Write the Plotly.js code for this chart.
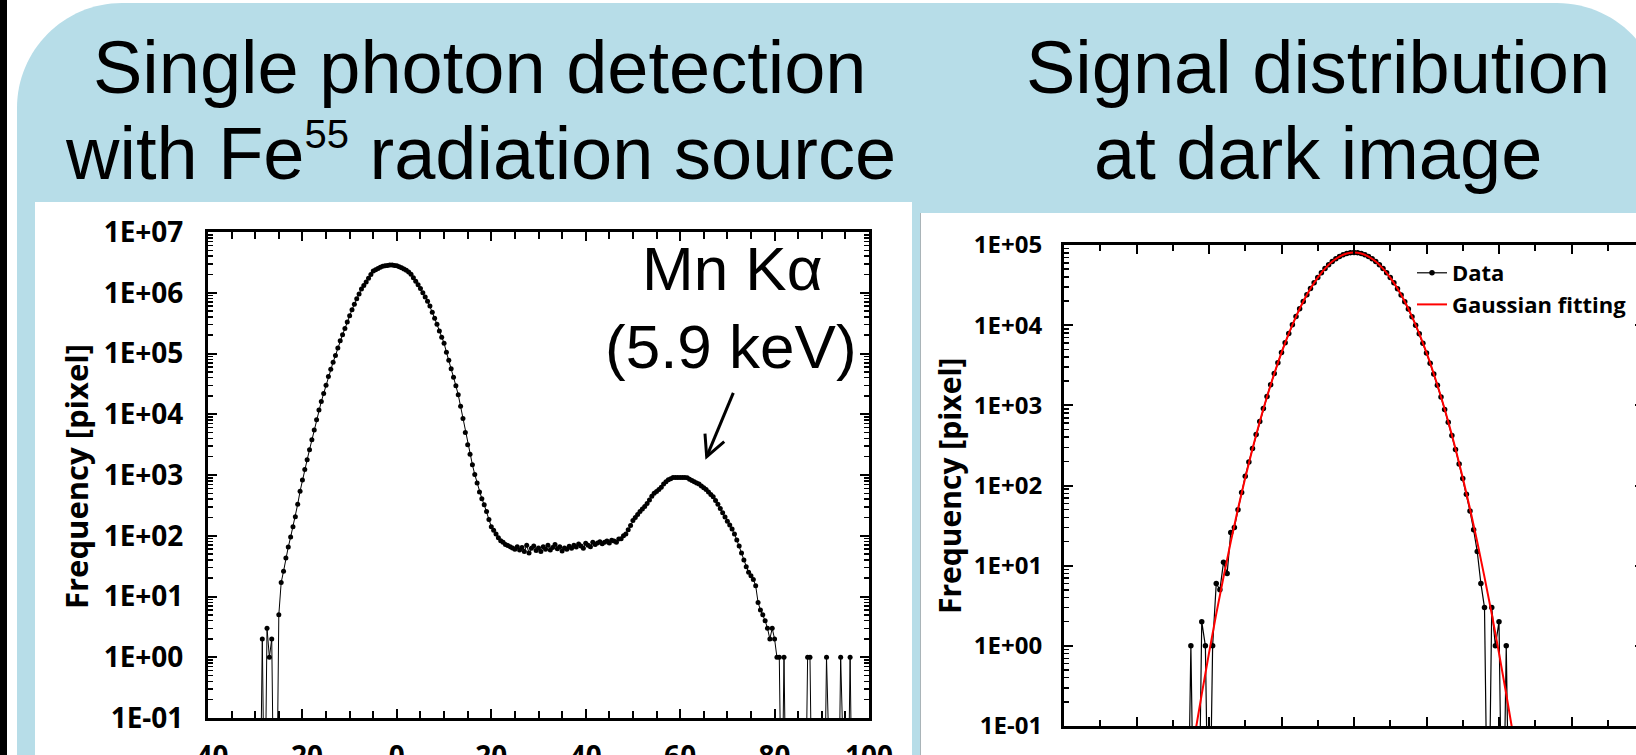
<!DOCTYPE html>
<html>
<head>
<meta charset="utf-8">
<script src="https://cdn.plot.ly/plotly-3.0.1.min.js"></script>
<style>
html,body{margin:0;padding:0;overflow:hidden;background:#fff;}
#chart{width:1660px;height:790px;}
</style>
</head>
<body>
<div id="chart"></div>
<script>
// ---------------- DATA ----------------
// Left chart: Fe55 single photon detection histogram (x bins, frequency)
const feX = [
 -29,-28.5,-28,-27.5,-27,-26.5,-26,-25.5,-25,-24.5,
 -24,-23.5,-23,-22.5,-22,-21.5,-21,-20.5,-20,-19.5,
 -19,-18.5,-18,-17.5,-17,-16.5,-16,-15.5,-15,-14.5,
 -14,-13.5,-13,-12.5,-12,-11.5,-11,-10.5,-10,-9.5,
 -9,-8.5,-8,-7.5,-7,-6.5,-6,-5.5,-5,-4.5,
 -4,-3.5,-3,-2.5,-2,-1.5,-1,-0.5,0,0.5,
 1,1.5,2,2.5,3,3.5,4,4.5,5,5.5,
 6,6.5,7,7.5,8,8.5,9,9.5,10,10.5,
 11,11.5,12,12.5,13,13.5,14,14.5,15,15.5,
 16,16.5,17,17.5,18,18.5,19,19.5,20,20.5,
 21,21.5,22,22.5,23,23.5,24,24.5,25,25.5,
 26,26.5,27,27.5,28,28.5,29,29.5,30,30.5,
 31,31.5,32,32.5,33,33.5,34,34.5,35,35.5,
 36,36.5,37,37.5,38,38.5,39,39.5,40,40.5,
 41,41.5,42,42.5,43,43.5,44,44.5,45,45.5,
 46,46.5,47,47.5,48,48.5,49,49.5,50,50.5,
 51,51.5,52,52.5,53,53.5,54,54.5,55,55.5,
 56,56.5,57,57.5,58,58.5,59,59.5,60,60.5,
 61,61.5,62,62.5,63,63.5,64,64.5,65,65.5,
 66,66.5,67,67.5,68,68.5,69,69.5,70,70.5,
 71,71.5,72,72.5,73,73.5,74,74.5,75,75.5,
 76,76.5,77,77.5,78,78.5,79,79.5,80,80.5,
 81,81.5,82,82.5,83,83.5,84,84.5,85,85.5,
 86,86.5,87,87.5,88,88.5,89,89.5,90,90.5,
 91,91.5,92,92.5,93,93.5,94,94.5,95,95.5,
 96,96.5,97
];
const feFreq = [
 0,2,0,3,1,2,0,0,5,17,
 26,43,65,95,140,205,330,540,830,1230,
 1780,2600,3800,5500,8100,11700,16200,22000,30000,42000,
 55000,72000,93000,123000,162000,204000,257000,331000,417000,525000,
 646000,794000,955000,1150000,1320000,1510000,1740000,2000000,2290000,2400000,
 2510000,2630000,2720000,2790000,2820000,2850000,2850000,2820000,2790000,2690000,
 2570000,2450000,2340000,2200000,2020000,1760000,1550000,1350000,1170000,1000000,
 851000,724000,603000,479000,380000,302000,234000,186000,148000,105000,
 77600,56200,40700,29500,20900,13500,8510,5010,3160,2190,
 1480,1020,741,525,407,324,251,186,141,123,
 107,93,83,78,72,69,66,63,60,66,
 58,64,55,70,52,62,68,57,63,55,
 66,60,70,58,64,72,61,66,56,63,
 60,67,62,70,65,73,68,62,75,70,
 66,78,72,76,80,74,78,82,76,84,
 82,78,88,89,100,107,126,148,178,200,
 224,251,275,302,339,389,447,501,537,575,
 631,708,776,832,871,912,912,912,912,912,
 912,900,851,813,776,741,708,661,617,575,
 525,479,437,380,331,282,240,204,174,151,
 129,107,85,68,52,40,31,25,22,19,
 15,8,6,5,4,3,2,3,2,1,
 1,0,1,0,0,0,0,0,0,0,
 0,0,1,1,0,0,0,0,0,0,
 1,0,0,0,0,0,1,0,0,0,
 1,0,0
];

// Right chart: dark image signal distribution (x bins, frequency)
const darkX = [
 -23,-22.5,-22,-21.5,-21,-20.5,-20,-19.5,-19,-18.5,
 -18,-17.5,-17,-16.5,-16,-15.5,-15,-14.5,-14,-13.5,
 -13,-12.5,-12,-11.5,-11,-10.5,-10,-9.5,-9,-8.5,
 -8,-7.5,-7,-6.5,-6,-5.5,-5,-4.5,-4,-3.5,
 -3,-2.5,-2,-1.5,-1,-0.5,0,0.5,1,1.5,
 2,2.5,3,3.5,4,4.5,5,5.5,6,6.5,
 7,7.5,8,8.5,9,9.5,10,10.5,11,11.5,
 12,12.5,13,13.5,14,14.5,15,15.5,16,16.5,
 17,17.5,18,18.5,19,19.5,20,20.5,21,21.5
];
const darkFreq = [
 0,1,0,0,2,1,0,1,6,5,
 11,8,26,30,50,82,130,196,290,432,
 630,910,1290,1810,2490,3390,4560,6030,7870,10100,
 12800,16000,19700,23900,28600,33800,39300,45100,50900,56700,
 62300,67400,71900,75600,78400,80100,80600,80100,78400,75600,
 71900,67300,62200,56600,50800,45000,39200,33700,28500,23800,
 19600,15900,12700,10000,7800,5960,4500,3350,2460,1780,
 1270,890,615,420,282,186,122,78,48,28,
 15,6,3,0,3,1,2,0,1,0
];
// Gaussian fitting curve
const fitX = [-22,-21,-20,-19,-18,-17,-16,-15,-14,-13,-12,-11,-10,-9,-8,-7,-6,-5,-4,-3,-2,-1,
 0,1,2,3,4,5,6,7,8,9,10,11,12,13,14,15,16,17,18,19,20,21,22];
const fitFreq = [0.073,0.25,0.81,2.5,7.2,19.8,51.2,125,287,625,1280,2480,4540,7850,12800,19700,28600,39200,50800,62200,71800,78300,
 80500,78300,71800,62200,50800,39200,28600,19700,12800,7850,4540,2480,1280,625,287,125,51.2,19.8,7.2,2.5,0.81,0.25,0.073];

// Tick labels
const leftXTicks = [-40,-20,0,20,40,60,80,100];
const leftXLabels = ['-40','-20','0','20','40','60','80','100'];
const leftYTicks = [0.1,1,10,100,1000,10000,100000,1000000,10000000];
const leftYLabels = ['1E-01','1E+00','1E+01','1E+02','1E+03','1E+04','1E+05','1E+06','1E+07'];
const rightXTicks = [-40,-30,-20,-10,0,10,20,30,40];
const rightYTicks = [0.1,1,10,100,1000,10000,100000];
const rightYLabels = ['1E-01','1E+00','1E+01','1E+02','1E+03','1E+04','1E+05'];

// ---------------- LAYOUT HELPERS ----------------
const W = 1660, H = 790;
const px = x => x / W;
const py = y => 1 - y / H;
const P = (x, y) => px(x).toFixed(5) + ',' + py(y).toFixed(5);
// zero counts cannot sit on a log axis: drop them just below the visible range
const ZERO_FLOOR = 1e-3;
const floorZero = arr => arr.map(v => v > 0 ? v : ZERO_FLOOR);

function minorLog(lo, hi) {
  const out = [];
  for (let d = lo; d < hi; d++) for (let k = 2; k <= 9; k++) out.push(k * Math.pow(10, d));
  return out;
}

const LBL = 'Open Sans, Noto Sans, sans-serif';
const TTL = 'Liberation Sans, Arial, sans-serif';
const tickFontL = {family: LBL, size: 28, color: '#000', weight: 'bold'};
const tickFontR = {family: LBL, size: 24, color: '#000', weight: 'bold'};
const BLUE = '#b7dde8';

function rr(x0, y0, x1, y1, r) {
  const k = 0.5523 * r;
  return 'M' + P(x0, y1) + ' L' + P(x0, y0 + r) +
    ' C' + P(x0, y0 + r - k) + ' ' + P(x0 + r - k, y0) + ' ' + P(x0 + r, y0) +
    ' L' + P(x1 - r, y0) +
    ' C' + P(x1 - r + k, y0) + ' ' + P(x1, y0 + r - k) + ' ' + P(x1, y0 + r) +
    ' L' + P(x1, y1) + ' Z';
}

// arrow (pixel positions of the slide pointer)
const arrowTail = [733.3, 392.9], arrowTip = [706.7, 456.6];
function arrowHeadPath(tail, tip, len, halfDeg) {
  const dx = tail[0] - tip[0], dy = tail[1] - tip[1];
  const L = Math.hypot(dx, dy), ux = dx / L, uy = dy / L;
  const a = halfDeg * Math.PI / 180;
  const r = s => [tip[0] + len * (ux * Math.cos(s * a) - uy * Math.sin(s * a)),
                  tip[1] + len * (ux * Math.sin(s * a) + uy * Math.cos(s * a))];
  const p1 = r(1), p2 = r(-1);
  return 'M' + P(p1[0], p1[1]) + ' L' + P(tip[0], tip[1]) + ' L' + P(p2[0], p2[1]);
}

const traces = [
  {x: feX, y: floorZero(feFreq), xaxis: 'x', yaxis: 'y', type: 'scatter', mode: 'lines+markers',
   line: {color: '#000', width: 1}, marker: {color: '#000', size: 5}, showlegend: false, hoverinfo: 'skip'},
  {x: darkX, y: floorZero(darkFreq), xaxis: 'x2', yaxis: 'y2', type: 'scatter', mode: 'lines+markers',
   name: 'Data', line: {color: '#000', width: 1.2}, marker: {color: '#000', size: 5.5}, hoverinfo: 'skip'},
  {x: fitX, y: fitFreq, xaxis: 'x2', yaxis: 'y2', type: 'scatter', mode: 'lines',
   name: 'Gaussian fitting', line: {color: '#ff0000', width: 2, shape: 'spline'}, hoverinfo: 'skip'}
];

const axBase = {showgrid: false, zeroline: false, showline: true, linecolor: '#000', linewidth: 3,
  mirror: 'ticks', ticks: 'inside', tickcolor: '#000', tickwidth: 2, fixedrange: true};

const layout = {
  width: W, height: H,
  margin: {l: 0, r: 0, t: 0, b: 0},
  paper_bgcolor: '#fff', plot_bgcolor: 'rgba(0,0,0,0)',
  showlegend: true,
  xaxis: Object.assign({}, axBase, {
    domain: [px(208), px(869)], anchor: 'y', range: [-40, 100],
    tickmode: 'array', tickvals: leftXTicks, ticktext: leftXLabels, ticklen: 9,
    tickfont: tickFontL, ticklabelstandoff: 11,
    minor: {tickmode: 'linear', tick0: -40, dtick: 5, ticks: 'inside', ticklen: 7, tickwidth: 2, tickcolor: '#000', showgrid: false}
  }),
  yaxis: Object.assign({}, axBase, {
    domain: [py(718), py(232)], anchor: 'x', type: 'log', range: [-1, 7],
    tickmode: 'array', tickvals: leftYTicks, ticktext: leftYLabels, ticklen: 9,
    tickfont: tickFontL, ticklabelstandoff: 16,
    minor: {tickmode: 'array', tickvals: minorLog(-1, 7), ticks: 'inside', ticklen: 5, tickwidth: 1.5, tickcolor: '#000', showgrid: false}
  }),
  xaxis2: Object.assign({}, axBase, {
    domain: [px(1064), px(1644)], anchor: 'y2', range: [-40, 40],
    tickmode: 'array', tickvals: rightXTicks, ticklen: 9, showticklabels: false,
    minor: {tickmode: 'linear', tick0: -40, dtick: 5, ticks: 'inside', ticklen: 6, tickwidth: 2, tickcolor: '#000', showgrid: false}
  }),
  yaxis2: Object.assign({}, axBase, {
    domain: [py(726), py(245)], anchor: 'x2', type: 'log', range: [-1, 5],
    tickmode: 'array', tickvals: rightYTicks, ticktext: rightYLabels, ticklen: 9,
    tickfont: tickFontR, ticklabelstandoff: 14,
    minor: {tickmode: 'array', tickvals: minorLog(-1, 5), ticks: 'inside', ticklen: 5, tickwidth: 1.5, tickcolor: '#000', showgrid: false}
  }),
  legend: {x: px(1412), y: py(252), xanchor: 'left', yanchor: 'top', bgcolor: 'rgba(0,0,0,0)',
    font: {family: LBL, size: 22, color: '#000', weight: 'bold'}, itemwidth: 30, tracegroupgap: 0},
  shapes: [
    {type: 'rect', xref: 'paper', yref: 'paper', x0: 0, x1: px(7), y0: 0, y1: 1, fillcolor: '#000', line: {width: 0}, layer: 'below'},
    {type: 'path', xref: 'paper', yref: 'paper', path: rr(17, 3, 1662, 800, 105), fillcolor: BLUE, line: {width: 0}, layer: 'below'},
    {type: 'rect', xref: 'paper', yref: 'paper', x0: px(35), x1: px(912), y0: 0, y1: py(202), fillcolor: '#fff', line: {width: 0}, layer: 'below'},
    {type: 'rect', xref: 'paper', yref: 'paper', x0: px(920), x1: 1, y0: 0, y1: py(213), fillcolor: '#fff', line: {width: 0}, layer: 'below'},
    {type: 'line', xref: 'paper', yref: 'paper', x0: px(920.5), x1: px(920.5), y0: 0, y1: py(213), line: {color: '#a9b4b8', width: 1}, layer: 'below'},
    // pointer arrow to the Mn K-alpha peak
    {type: 'line', xref: 'paper', yref: 'paper', x0: px(arrowTail[0]), y0: py(arrowTail[1]), x1: px(arrowTip[0]), y1: py(arrowTip[1]),
     line: {color: '#000', width: 3}, layer: 'above'},
    {type: 'path', xref: 'paper', yref: 'paper', path: arrowHeadPath(arrowTail, arrowTip, 23, 27),
     line: {color: '#000', width: 3}, layer: 'above'}
  ],
  annotations: [
    {text: 'Single photon detection', x: px(480), y: py(67), xref: 'paper', yref: 'paper', xanchor: 'center', yanchor: 'middle', showarrow: false,
     font: {family: TTL, size: 74, color: '#000'}},
    {text: 'with Fe<sup><span style="font-size:40px">55</span></sup> radiation source', x: px(480), y: py(153), xref: 'paper', yref: 'paper', xanchor: 'center', yanchor: 'middle', showarrow: false,
     font: {family: TTL, size: 74, color: '#000'}},
    {text: 'Signal distribution', x: px(1318), y: py(67), xref: 'paper', yref: 'paper', xanchor: 'center', yanchor: 'middle', showarrow: false,
     font: {family: TTL, size: 74, color: '#000'}},
    {text: 'at dark image', x: px(1318), y: py(153), xref: 'paper', yref: 'paper', xanchor: 'center', yanchor: 'middle', showarrow: false,
     font: {family: TTL, size: 74, color: '#000'}},
    {text: 'Mn Kα', x: px(732), y: py(268), xref: 'paper', yref: 'paper', xanchor: 'center', yanchor: 'middle', showarrow: false,
     font: {family: TTL, size: 62, color: '#000'}},
    {text: '(5.9 keV)', x: px(731), y: py(346), xref: 'paper', yref: 'paper', xanchor: 'center', yanchor: 'middle', showarrow: false,
     font: {family: TTL, size: 62, color: '#000'}},
    {text: '<b>Frequency [pixel]</b>', x: px(76), y: py(477), xref: 'paper', yref: 'paper', xanchor: 'center', yanchor: 'middle', showarrow: false,
     textangle: -90, font: {family: LBL, size: 31, color: '#000'}},
    {text: '<b>Frequency [pixel]</b>', x: px(950), y: py(486), xref: 'paper', yref: 'paper', xanchor: 'center', yanchor: 'middle', showarrow: false,
     textangle: -90, font: {family: LBL, size: 30, color: '#000'}}
  ]
};

Plotly.newPlot('chart', traces, layout, {displayModeBar: false, staticPlot: true});
</script>
</body>
</html>
